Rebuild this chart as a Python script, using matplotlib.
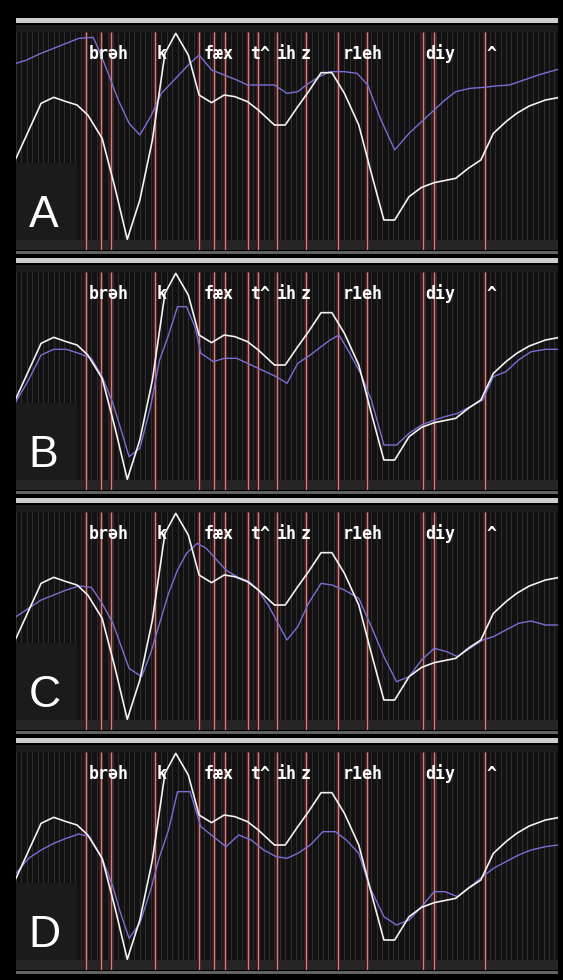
import matplotlib
matplotlib.use("Agg")
import matplotlib.pyplot as plt
from matplotlib.patches import Rectangle

# ---------------- data ----------------
panel_names = ["A", "B", "C", "D"]

# target (white) contour, shared by all panels
white_t = [0, 7.0, 10.5, 14.0, 17.0, 20.0, 24.0, 27.5, 31.0, 34.5, 38.0, 41.5, 44.5, 48.0,
           51.0, 54.5, 58.0, 61.0, 64.5, 67.5, 72.0, 75.0, 78.5, 81.5, 85.0, 88.0, 91.5,
           95.5, 99.0, 102.5, 105.5, 109.5, 113.0, 116.5, 122.5, 126.0, 129.5, 133.0,
           136.5, 139.5, 143.0, 147.5, 151.0]
white_v = [24.5, 41.0, 42.8, 41.5, 40.5, 37.5, 30.5, 16.0, 0.2, 12.0, 30.0, 56.0, 62.0, 55.5,
           43.5, 41.2, 43.5, 43.0, 41.5, 39.0, 34.5, 34.5, 40.0, 44.5, 50.2, 50.2, 44.0,
           34.5, 20.0, 6.0, 6.0, 13.0, 15.8, 17.2, 18.5, 21.5, 24.0, 32.0, 35.5, 38.0,
           40.2, 42.0, 42.7]

blue_a_t = [0, 3.0, 6.5, 10.5, 14.0, 17.5, 21.5, 23.5, 25.5, 28.5, 31.5, 34.5, 37.5, 40.5,
            44.5, 48.0, 51.0, 54.5, 58.0, 61.5, 64.5, 67.5, 72.0, 75.5, 78.5, 81.5, 84.5,
            87.5, 91.5, 95.0, 98.0, 101.5, 105.5, 109.5, 113.0, 116.5, 119.5, 122.5, 126.5,
            130.5, 133.5, 137.5, 141.5, 145.5, 151.0]
blue_a_v = [53.0, 54.0, 55.8, 57.5, 59.0, 60.5, 60.8, 56.0, 50.5, 42.0, 35.0, 31.5, 37.0, 44.0,
            48.5, 52.5, 55.5, 51.0, 49.5, 48.0, 46.5, 46.5, 46.5, 44.0, 44.5, 47.0, 49.0,
            50.5, 50.5, 50.0, 46.5, 36.5, 27.0, 32.0, 35.5, 39.0, 42.0, 44.5, 45.5,
            45.8, 46.2, 46.5, 48.0, 49.5, 51.2]

blue_b_t = [0, 3.5, 7.0, 10.5, 14.0, 17.5, 21.0, 24.0, 27.0, 29.0, 31.5, 34.5, 37.5, 40.0,
            42.5, 45.0, 47.5, 50.0, 51.5, 55.0, 58.0, 61.5, 65.5, 69.5, 72.5, 75.5, 78.5,
            82.0, 85.0, 87.5, 90.0, 93.0, 96.0, 99.0, 102.5, 106.0, 109.5, 113.0, 116.5,
            119.5, 123.0, 126.5, 130.0, 133.0, 136.5, 140.0, 143.5, 147.5, 151.0]
blue_b_v = [23.5, 30.0, 37.5, 39.2, 39.2, 38.0, 36.5, 31.0, 23.0, 16.0, 7.0, 9.5, 22.0, 36.0,
            43.5, 52.0, 52.0, 45.5, 38.0, 35.5, 36.5, 36.5, 34.5, 32.5, 31.0, 29.0, 35.0,
            37.5, 40.0, 42.0, 43.5, 38.0, 32.0, 24.0, 10.5, 10.5, 14.0, 16.5, 18.0,
            19.0, 20.0, 22.0, 24.0, 31.0, 32.5, 36.0, 38.5, 39.2, 39.2]

blue_c_t = [0, 3.5, 7.0, 10.5, 14.0, 17.5, 21.0, 24.0, 27.0, 29.0, 31.5, 35.0, 37.5, 40.0,
            42.5, 45.0, 47.5, 50.5, 53.0, 55.5, 58.5, 61.5, 65.0, 67.5, 70.5, 73.0, 75.5,
            78.5, 81.5, 85.0, 88.0, 91.5, 95.5, 99.0, 102.5, 106.0, 109.5, 113.0, 116.5,
            120.0, 123.0, 126.5, 130.0, 133.0, 136.5, 140.0, 143.5, 147.5, 151.0]
blue_c_v = [31.0, 33.5, 36.0, 37.5, 39.0, 40.2, 39.8, 35.0, 29.0, 23.0, 15.5, 13.0, 20.0, 29.0,
            38.0, 45.0, 50.0, 53.0, 51.5, 48.5, 45.0, 43.0, 41.5, 39.0, 34.0, 29.0, 24.0,
            28.0, 35.0, 41.0, 40.5, 39.0, 36.5, 28.0, 19.0, 11.5, 13.0, 18.0, 21.5,
            20.5, 19.0, 21.5, 24.0, 25.0, 27.0, 29.0, 29.7, 28.5, 28.5]

blue_d_t = [0, 3.5, 7.0, 10.5, 14.0, 17.5, 20.5, 24.0, 27.0, 29.0, 31.5, 34.5, 37.5, 40.0,
            42.5, 45.0, 48.5, 51.5, 55.0, 58.5, 62.0, 65.5, 69.0, 72.5, 75.5, 78.5, 82.0,
            85.5, 89.0, 92.0, 95.5, 98.5, 102.5, 106.0, 109.5, 113.0, 116.5, 119.5, 123.0,
            126.5, 130.0, 133.0, 136.5, 140.0, 143.5, 147.5, 151.0]
blue_d_v = [26.0, 30.5, 33.0, 35.0, 36.5, 37.8, 37.0, 30.5, 22.0, 14.5, 6.5, 11.0, 21.0, 31.0,
            39.0, 50.5, 50.5, 40.0, 37.0, 34.0, 37.5, 36.0, 33.0, 31.0, 30.5, 32.0, 34.5,
            38.5, 38.5, 36.0, 32.0, 22.0, 13.0, 10.5, 12.0, 16.0, 20.5, 20.5, 19.0,
            22.0, 25.0, 27.5, 29.5, 31.5, 33.0, 34.0, 34.5]

blue_t = [blue_a_t, blue_b_t, blue_c_t, blue_d_t]
blue_v = [blue_a_v, blue_b_v, blue_c_v, blue_d_v]

# phoneme boundaries (red lines)
boundaries = [19.6, 23.8, 26.5, 38.7, 51.0, 55.1, 58.3, 64.6, 67.3, 72.7, 80.8, 89.8,
              97.9, 113.5, 116.4, 130.8]
# phoneme labels and their positions
phone_labels = ["brəh", "k", "fæx", "t^", "ih", "z", "r1eh", "diy", "^"]
phone_pos = [20.3, 39.3, 52.4, 65.2, 72.6, 79.4, 91.1, 113.9, 131.2]

T_MAX = 151.0
V_MAX = 64.5
V_MIN = -3.0

# ---------------- figure ----------------
W, H = 563, 980
fig = plt.figure(figsize=(W / 100, H / 100), dpi=100, facecolor="black")


def px_rect(x0, y0, x1, y1, color):
    fig.patches.append(Rectangle((x0 / W, 1 - y1 / H), (x1 - x0) / W, (y1 - y0) / H,
                                 transform=fig.transFigure, facecolor=color,
                                 edgecolor="none", zorder=0))


grid_t = [i * 1.5 for i in range(int(T_MAX / 1.5) + 2)]

for k, name in enumerate(panel_names):
    off = 240 * k
    # light separator bar above panel
    px_rect(16, 18.3 + off, 558, 22.7 + off, "#cdcdcd")
    # darker bar under panel
    px_rect(16, 251 + off, 558, 254 + off, "#626262")

    ax = fig.add_axes([16 / W, 1 - (250 + off) / H, 542 / W, 225 / H])
    ax.set_facecolor("#121212")
    ax.set_xlim(0, T_MAX)
    ax.set_ylim(V_MIN, V_MAX)
    ax.axis("off")
    ax.add_patch(Rectangle((0, V_MIN), T_MAX, V_MAX - V_MIN, facecolor="#121212",
                           edgecolor="none", zorder=0))
    # top strip
    ax.add_patch(Rectangle((0, 62.3), T_MAX, V_MAX - 62.3, facecolor="#1b1b1b",
                           edgecolor="none", zorder=0.5))
    # grid
    ax.vlines(grid_t, 0, 62.3, colors="#343434", linewidth=0.6, zorder=1)
    # letter box
    ax.add_patch(Rectangle((0, 0), 17, 23, facecolor="#1b1b1b", edgecolor="none", zorder=1.2))
    # bottom band
    ax.add_patch(Rectangle((0, V_MIN), T_MAX, -V_MIN, facecolor="#252525",
                           edgecolor="none", zorder=1.5))
    # phoneme boundaries
    ax.vlines(boundaries, V_MIN, 62.3, colors="#3a1515", linewidth=3.0, zorder=1.8)
    ax.vlines(boundaries, V_MIN, 62.3, colors="#c98282", linewidth=1.0, zorder=2)
    # labels
    for lab, p in zip(phone_labels, phone_pos):
        ax.text(p, 54.3, lab, family="DejaVu Sans Mono", fontsize=12, fontweight="bold",
                color="white", ha="left", va="baseline", zorder=5)
    # curves
    ax.plot(white_t, white_v, color="#f2f2f2", linewidth=1.2, zorder=4)
    ax.plot(blue_t[k], blue_v[k], color="#7a6ed6", linewidth=1.0, zorder=3)
    # panel letter
    ax.text(3.5, 4.0, name, family="Liberation Sans", fontsize=32, color="white",
            ha="left", va="baseline", zorder=6)

fig.savefig("out.png", dpi=100, facecolor="black")
